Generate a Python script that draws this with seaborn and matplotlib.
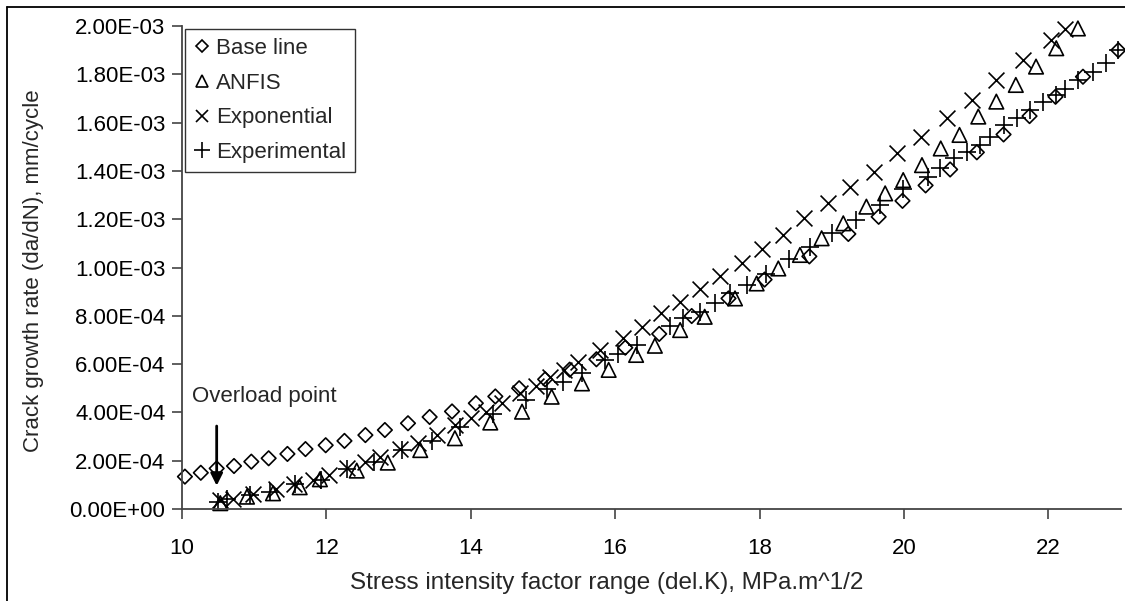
import numpy as np
import pandas as pd
import matplotlib
matplotlib.use("Agg")
import matplotlib.pyplot as plt
import seaborn as sns
from matplotlib.lines import Line2D

# ---------------- data ----------------
base_x = [10.04, 10.26, 10.48, 10.72, 10.96, 11.20, 11.46, 11.71, 11.99, 12.25, 12.54,
          12.81, 13.13, 13.43, 13.74, 14.07, 14.34, 14.67, 15.03, 15.37, 15.74, 16.14,
          16.61, 17.06, 17.57, 18.07, 18.69, 19.23, 19.65, 19.98, 20.30, 20.64, 21.01,
          21.38, 21.74, 22.10, 22.48, 22.97]
base_y = [1.34, 1.50, 1.68, 1.78, 1.96, 2.10, 2.28, 2.48, 2.64, 2.82, 3.06,
          3.27, 3.55, 3.81, 4.04, 4.38, 4.66, 5.00, 5.37, 5.77, 6.20, 6.68,
          7.25, 7.99, 8.72, 9.50, 10.46, 11.39, 12.10, 12.76, 13.40, 14.06, 14.77,
          15.51, 16.27, 17.07, 17.90, 19.00]

anfis_x = [10.53, 10.90, 11.26, 11.63, 11.91, 12.42, 12.85, 13.30, 13.78, 14.27, 14.71,
           15.12, 15.54, 15.91, 16.29, 16.55, 16.90, 17.24, 17.66, 17.96, 18.26, 18.56,
           18.86, 19.16, 19.48, 19.74, 19.99, 20.25, 20.51, 20.77, 21.03, 21.28, 21.55,
           21.83, 22.11, 22.41]
anfis_y = [0.24, 0.51, 0.65, 0.90, 1.23, 1.59, 1.92, 2.44, 2.93, 3.58, 4.03,
           4.65, 5.20, 5.76, 6.38, 6.76, 7.41, 7.96, 8.72, 9.34, 9.96, 10.52,
           11.21, 11.83, 12.52, 13.07, 13.62, 14.24, 14.93, 15.49, 16.25, 16.87, 17.56,
           18.32, 19.08, 19.90]

expo_x = [10.53, 10.70, 10.98, 11.30, 11.55, 11.81, 12.03, 12.28, 12.53, 12.74, 13.02,
          13.27, 13.53, 13.78, 14.00, 14.21, 14.43, 14.68, 14.90, 15.10, 15.29, 15.48,
          15.79, 16.11, 16.37, 16.64, 16.90, 17.17, 17.45, 17.75, 18.03, 18.33, 18.61,
          18.95, 19.25, 19.58, 19.90, 20.24, 20.59, 20.94, 21.28, 21.65, 22.04, 22.23]
expo_y = [0.36, 0.42, 0.62, 0.84, 1.05, 1.20, 1.40, 1.69, 1.96, 2.17, 2.47,
          2.75, 3.06, 3.48, 3.76, 4.03, 4.37, 4.80, 5.11, 5.45, 5.77, 6.10,
          6.58, 7.07, 7.55, 8.10, 8.56, 9.10, 9.65, 10.20, 10.75, 11.35, 12.03,
          12.66, 13.35, 13.97, 14.73, 15.42, 16.18, 16.94, 17.77, 18.59, 19.42, 19.86]

exp_x = [10.50, 10.62, 10.94, 11.22, 11.57, 11.92, 12.29, 12.66, 13.05, 13.46, 13.85,
         14.31, 14.77, 15.05, 15.28, 15.54, 15.86, 16.04, 16.30, 16.76, 16.94, 17.17,
         17.38, 17.59, 17.82, 18.09, 18.41, 18.70, 19.01, 19.34, 19.67, 19.99, 20.34,
         20.50, 20.69, 20.87, 21.05, 21.19, 21.38, 21.56, 21.75, 21.93, 22.11, 22.23,
         22.41, 22.62, 22.80, 22.97]
exp_y = [0.30, 0.40, 0.58, 0.69, 1.03, 1.22, 1.64, 1.96, 2.44, 2.83, 3.39,
         3.94, 4.50, 4.95, 5.27, 5.62, 6.17, 6.42, 6.79, 7.58, 7.90, 8.17,
         8.54, 8.93, 9.28, 9.73, 10.34, 10.86, 11.41, 11.97, 12.59, 13.24, 13.76,
         14.10, 14.52, 14.80, 15.07, 15.41, 15.90, 16.18, 16.52, 16.87, 17.14, 17.38,
         17.76, 18.10, 18.45, 19.00]

y_scale = 1e-4
series_names = ["Base line", "ANFIS", "Exponential", "Experimental"]
x_ticks = [10, 12, 14, 16, 18, 20, 22]
y_ticks = [i * 2e-4 for i in range(11)]

# ---------------- style ----------------
sns.set_theme(style="white")
plt.rcParams['font.family'] = ['Liberation Sans', 'DejaVu Sans']
FS = 16
FS_X = 17.5

fig = plt.figure(figsize=(11.25, 6.01), dpi=100)
ax = fig.add_axes([0.1618, 0.1531, 0.996 - 0.1618, 0.9567 - 0.1531])

def frame(x, y):
    return pd.DataFrame({"x": x, "y": np.array(y) * y_scale})

sns.scatterplot(data=frame(base_x, base_y), x="x", y="y", ax=ax, marker="D", s=55,
                facecolors="none", edgecolor="black", linewidth=1.2, clip_on=False)
sns.scatterplot(data=frame(anfis_x, anfis_y), x="x", y="y", ax=ax, marker="^", s=110,
                facecolors="none", edgecolor="black", linewidth=1.2, clip_on=False)
sns.scatterplot(data=frame(expo_x, expo_y), x="x", y="y", ax=ax, marker="x", s=130,
                color="black", linewidth=1.2, clip_on=False)
sns.scatterplot(data=frame(exp_x, exp_y), x="x", y="y", ax=ax, marker="+", s=170,
                color="black", linewidth=1.2, clip_on=False)

ax.set_xlim(10, 23)
ax.set_ylim(0, 2e-3)
ax.set_xticks(x_ticks)
ax.set_xticklabels([str(t) for t in x_ticks], fontsize=FS)
ax.set_yticks(y_ticks)
ax.set_yticklabels(['{:.2E}'.format(t) for t in y_ticks], fontsize=FS)

for s in ["top", "right"]:
    ax.spines[s].set_visible(False)
for s in ["left", "bottom"]:
    ax.spines[s].set_color("#444444")
    ax.spines[s].set_linewidth(1.3)
ax.tick_params(axis="both", direction="out", length=7, width=1.2, color="#444444",
               colors="black", left=True, bottom=True, pad=5)
ax.tick_params(axis="x", pad=14)

ax.set_xlabel("Stress intensity factor range (del.K), MPa.m^1/2", fontsize=FS_X)
ax.xaxis.set_label_coords((607 - 182) / 938.5, -(583 - 509) / 483.0)
ax.xaxis.label.set_va("center")
ax.set_ylabel("Crack growth rate (da/dN), mm/cycle", fontsize=FS)
ax.yaxis.set_label_coords(-(182 - 33) / 938.5, (509 - 271) / 483.0)
ax.yaxis.label.set_va("center")

# annotation
ax.annotate("", xy=(10.48, 0.85e-4), xytext=(10.48, 3.55e-4),
            arrowprops=dict(arrowstyle="-|>", color="black", lw=2, mutation_scale=18))
ax.text(10.14, 4.64e-4, "Overload point", fontsize=FS, va="center", ha="left")

# legend
handles = [
    Line2D([], [], linestyle="none", marker="D", markersize=6, markerfacecolor="none",
           markeredgecolor="black", markeredgewidth=1.2),
    Line2D([], [], linestyle="none", marker="^", markersize=8, markerfacecolor="none",
           markeredgecolor="black", markeredgewidth=1.2),
    Line2D([], [], linestyle="none", marker="x", markersize=9, color="black",
           markeredgewidth=1.2),
    Line2D([], [], linestyle="none", marker="+", markersize=11, color="black",
           markeredgewidth=1.2),
]
leg = ax.legend(handles, series_names, loc="upper left", bbox_to_anchor=(0.003, 0.994),
                fontsize=FS, frameon=True, fancybox=False, edgecolor="black",
                handlelength=0.7, handletextpad=0.3, borderpad=0.4, labelspacing=0.62,
                borderaxespad=0.0)
leg.get_frame().set_linewidth(1.0)

# outer border (top and left)
fig.add_artist(Line2D([0.0062, 0.0062], [0.0, 0.9884], transform=fig.transFigure,
                      color="black", lw=1.3))
fig.add_artist(Line2D([0.0062, 1.0], [0.9884, 0.9884], transform=fig.transFigure,
                      color="black", lw=1.3))

fig.savefig("out.png", dpi=100)
